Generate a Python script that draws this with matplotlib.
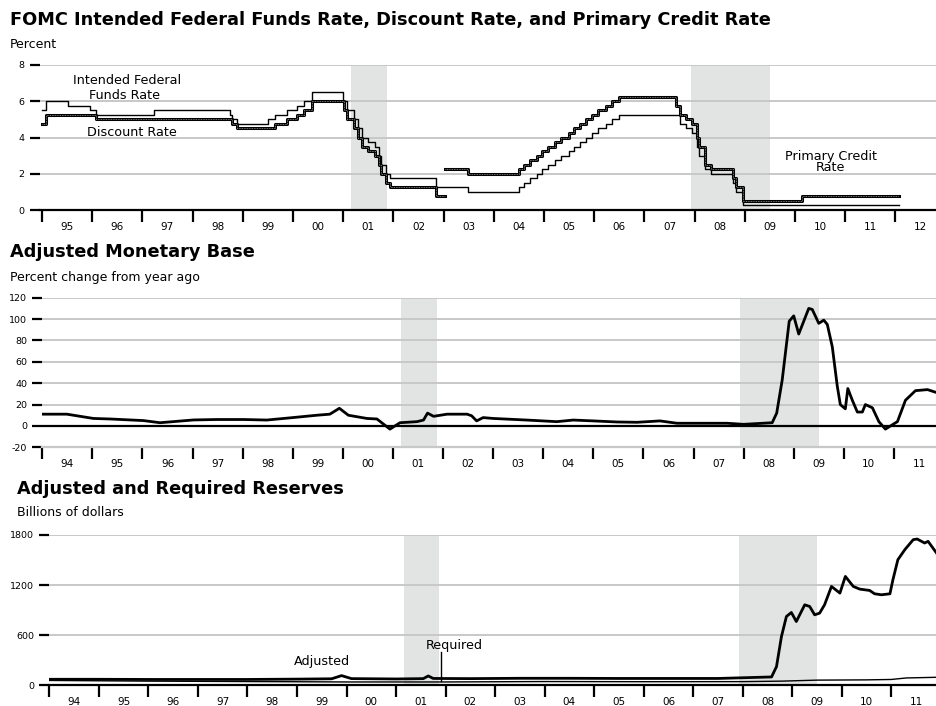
import numpy as np
import pandas as pd
import matplotlib
matplotlib.use("Agg")
import matplotlib.pyplot as plt

plt.rcParams["font.family"] = ["DejaVu Sans"]
plt.rcParams["axes.unicode_minus"] = False

# --- Panel 1: policy rates (step series, change dates) ---
ff_dates = ["1995-01-01", "1995-02-01", "1995-07-06", "1995-12-19", "1996-01-31",
            "1997-03-25", "1998-09-29", "1998-10-15", "1998-11-17", "1999-06-30",
            "1999-08-24", "1999-11-16", "2000-02-02", "2000-03-21", "2000-05-16",
            "2001-01-03", "2001-01-31", "2001-03-20", "2001-04-18", "2001-05-15",
            "2001-06-27", "2001-08-21", "2001-09-17", "2001-10-02", "2001-11-06",
            "2001-12-11", "2002-11-06", "2003-06-25", "2004-06-30", "2004-08-10",
            "2004-09-21", "2004-11-10", "2004-12-14", "2005-02-02", "2005-03-22",
            "2005-05-03", "2005-06-30", "2005-08-09", "2005-09-20", "2005-11-01",
            "2005-12-13", "2006-01-31", "2006-03-28", "2006-05-10", "2006-06-29",
            "2007-09-18", "2007-10-31", "2007-12-11", "2008-01-22", "2008-01-30",
            "2008-03-18", "2008-04-30", "2008-10-08", "2008-10-29", "2008-12-16",
            "2012-01-31"]
ff_rate = [5.5, 6.0, 5.75, 5.5, 5.25,
           5.5, 5.25, 5.0, 4.75, 5.0,
           5.25, 5.5, 5.75, 6.0, 6.5,
           6.0, 5.5, 5.0, 4.5, 4.0,
           3.75, 3.5, 3.0, 2.5, 2.0,
           1.75, 1.25, 1.0, 1.25, 1.5,
           1.75, 2.0, 2.25, 2.5, 2.75,
           3.0, 3.25, 3.5, 3.75, 4.0,
           4.25, 4.5, 4.75, 5.0, 5.25,
           4.75, 4.5, 4.25, 3.5, 3.0,
           2.25, 2.0, 1.5, 1.0, 0.25,
           0.25]

disc_dates = ["1995-01-01", "1995-02-01", "1996-01-31", "1998-10-15", "1998-11-17",
              "1999-08-24", "1999-11-16", "2000-02-02", "2000-03-21", "2000-05-16",
              "2001-01-04", "2001-01-31", "2001-03-20", "2001-04-18", "2001-05-15",
              "2001-06-27", "2001-08-21", "2001-09-17", "2001-10-02", "2001-11-06",
              "2001-12-11", "2002-11-06", "2003-01-09"]
disc_rate = [4.75, 5.25, 5.0, 4.75, 4.5,
             4.75, 5.0, 5.25, 5.5, 6.0,
             5.5, 5.0, 4.5, 4.0, 3.5,
             3.25, 3.0, 2.5, 2.0, 1.5,
             1.25, 0.75, 0.75]

pcr_dates = ["2003-01-09", "2003-06-25", "2004-06-30", "2004-08-10", "2004-09-21",
             "2004-11-10", "2004-12-14", "2005-02-02", "2005-03-22", "2005-05-03",
             "2005-06-30", "2005-08-09", "2005-09-20", "2005-11-01", "2005-12-13",
             "2006-01-31", "2006-03-28", "2006-05-10", "2006-06-29", "2007-08-17",
             "2007-09-18", "2007-10-31", "2007-12-11", "2008-01-22", "2008-01-30",
             "2008-03-16", "2008-03-18", "2008-04-30", "2008-10-08", "2008-10-29",
             "2008-12-16", "2010-02-19", "2012-01-31"]
pcr_rate = [2.25, 2.0, 2.25, 2.5, 2.75,
            3.0, 3.25, 3.5, 3.75, 4.0,
            4.25, 4.5, 4.75, 5.0, 5.25,
            5.5, 5.75, 6.0, 6.25, 5.75,
            5.25, 5.0, 4.75, 4.0, 3.5,
            3.25, 2.5, 2.25, 1.75, 1.25,
            0.5, 0.75, 0.75]

# --- Panel 2: adjusted monetary base, % change from year ago ---
mb_year = [1994.0, 1994.49, 1995.02, 1995.35, 1996.02, 1996.35, 1996.61, 1997.02,
           1997.48, 1998.03, 1998.48, 1999.0, 1999.48, 1999.74, 1999.93, 2000.11,
           2000.48, 2000.68, 2000.94, 2001.14, 2001.48, 2001.61, 2001.69, 2001.81,
           2002.08, 2002.48, 2002.57, 2002.67, 2002.80, 2003.0, 2003.67, 2004.27,
           2004.6, 2005.0, 2005.47, 2005.87, 2006.33, 2006.67, 2007.0, 2007.67,
           2008.0, 2008.57, 2008.66, 2008.77, 2008.91, 2009.0, 2009.1, 2009.2,
           2009.3, 2009.37, 2009.5, 2009.6, 2009.67, 2009.77, 2009.87, 2009.93,
           2010.03, 2010.08, 2010.17, 2010.27, 2010.37, 2010.43, 2010.57, 2010.70,
           2010.83, 2011.0, 2011.07, 2011.23, 2011.43, 2011.67, 2011.8, 2011.87]
mb_pct = [11, 11, 7, 6.5, 5, 3, 4, 5.6,
          6, 6, 5.5, 7.8, 10, 11, 16.5, 10,
          7, 6.5, -3, 3, 4, 5.5, 12, 9,
          11, 11, 9.5, 4.7, 7.8, 7, 5.5, 4,
          5.5, 4.7, 3.7, 3.4, 4.7, 2.5, 2.5, 2.5,
          1.5, 3, 12, 43, 98, 103, 86, 98,
          110, 109, 96, 99, 95, 74, 37, 20,
          16, 35, 24, 13, 13, 20, 17, 4,
          -3, 2, 4, 24, 33, 34, 32, 31]

# --- Panel 3: reserves, billions of dollars ---
adj_year = [1994.0, 1995.0, 1996.0, 1997.0, 1998.0, 1999.0, 1999.7, 1999.9, 2000.1,
            2001.0, 2001.55, 2001.65, 2001.75, 2002.5, 2003.5, 2004.5, 2005.5,
            2006.5, 2007.5, 2008.58, 2008.68, 2008.78, 2008.88, 2008.98, 2009.08,
            2009.25, 2009.35, 2009.45, 2009.55, 2009.65, 2009.79, 2009.96, 2010.07,
            2010.23, 2010.36, 2010.56, 2010.66, 2010.80, 2010.97, 2011.03, 2011.13,
            2011.27, 2011.44, 2011.52, 2011.67, 2011.74, 2011.92]
adj_res = [72, 72, 70, 70, 70, 74, 78, 116, 80,
           76, 80, 112, 82, 80, 84, 84, 82,
           82, 82, 100, 224, 584, 824, 872, 764,
           964, 944, 844, 864, 964, 1184, 1104, 1304,
           1184, 1152, 1136, 1096, 1084, 1096, 1264, 1504,
           1624, 1744, 1752, 1704, 1724, 1576]

req_year = [1994.0, 1996.0, 1998.0, 2000.0, 2002.0, 2004.0, 2006.0, 2008.0,
            2008.8, 2009.5, 2010.5, 2011.0, 2011.3, 2011.92]
req_res = [58, 50, 45, 40, 40, 45, 43, 44,
           50, 62, 65, 70, 88, 96]

recessions = [(2001.16, 2001.87), (2007.92, 2009.5)]

GRID = "#c8c8c8"
SHADE = "#e2e3e3"
TITLE_FS = 12.8
SUB_FS = 9
NOTE_FS = 9.2


def dec_year(dates):
    d = pd.to_datetime(dates)
    return np.asarray(d.year + (d.dayofyear - 1) / 365.25)


def style_axis(ax, first_year, last_year, xlim, ylim, yticks):
    ax.set_xlim(*xlim)
    ax.set_ylim(*ylim)
    for side in ("left", "right", "top"):
        ax.spines[side].set_visible(False)
    ax.spines["bottom"].set_linewidth(1.6)
    ax.set_yticks(yticks)
    ax.yaxis.grid(True, color=GRID, linewidth=1.4)
    ax.set_axisbelow(True)
    ax.tick_params(axis="y", length=7, width=1.6, pad=4, labelsize=6.8)
    years = np.arange(first_year, last_year + 1)
    ax.set_xticks(years)
    ax.set_xticklabels([])
    ax.set_xticks(years + 0.5, [f"{y % 100:02d}" for y in years], minor=True)
    ax.tick_params(axis="x", which="major", direction="out", length=8.5, width=1.6)
    ax.tick_params(axis="x", which="minor", length=0, pad=8.5, labelsize=7.5)
    for a, b in recessions:
        ax.axvspan(a, b, color=SHADE, zorder=0, linewidth=0)


fig = plt.figure(figsize=(9.37, 7.06), dpi=100)
W, H = 937, 706

# ---------------- top ----------------
ax1 = fig.add_axes([40 / W, 1 - 210 / H, (937 - 40) / W, 145 / H])
style_axis(ax1, 1995, 2012, (1994.96, 2012.83), (0, 8), [0, 2, 4, 6, 8])

for xs, ys, lw in [(dec_year(ff_dates), ff_rate, 1.0),
                   (dec_year(disc_dates), disc_rate, 2.2),
                   (dec_year(pcr_dates), pcr_rate, 2.2)]:
    ax1.step(xs, ys, where="post", color="black", linewidth=lw, zorder=3)
    if lw > 2:
        ax1.step(xs, ys, where="post", color="#9a9a9a", linewidth=0.6,
                 linestyle=(0, (1, 1)), zorder=4)

ax1.text(1996.69, 7.12, "Intended Federal", ha="center", va="center", fontsize=NOTE_FS)
ax1.text(1996.64, 6.3, "Funds Rate", ha="center", va="center", fontsize=NOTE_FS)
ax1.text(1996.79, 4.29, "Discount Rate", ha="center", va="center", fontsize=NOTE_FS)
ax1.text(2010.71, 2.96, "Primary Credit", ha="center", va="center", fontsize=NOTE_FS)
ax1.text(2010.71, 2.33, "Rate", ha="center", va="center", fontsize=NOTE_FS)

fig.text(10 / W, 1 - 20 / H, "FOMC Intended Federal Funds Rate, Discount Rate, and Primary Credit Rate",
         fontsize=TITLE_FS, fontweight="bold", va="center")
fig.text(10 / W, 1 - 45 / H, "Percent", fontsize=SUB_FS, va="center")

# ---------------- middle ----------------
ax2 = fig.add_axes([42.3 / W, 1 - 447.3 / H, (937 - 42.3) / W, 149.6 / H])
style_axis(ax2, 1994, 2011, (1994.0, 2011.86), (-20, 120), [-20, 0, 20, 40, 60, 80, 100, 120])
ax2.spines["bottom"].set_color(GRID)
ax2.axhline(0, color="black", linewidth=1.6, zorder=2)
ax2.plot(mb_year, mb_pct, color="black", linewidth=2.0, zorder=3)

fig.text(10 / W, 1 - 252 / H, "Adjusted Monetary Base", fontsize=TITLE_FS, fontweight="bold", va="center")
fig.text(10 / W, 1 - 277 / H, "Percent change from year ago", fontsize=SUB_FS, va="center")

# ---------------- bottom ----------------
ax3 = fig.add_axes([49.3 / W, 1 - 685.3 / H, (937 - 49.3) / W, 150.3 / H])
style_axis(ax3, 1994, 2011, (1994.0, 2011.92), (0, 1800), [0, 600, 1200, 1800])
ax3.plot(req_year, req_res, color="black", linewidth=1.0, zorder=3)
ax3.plot(adj_year, adj_res, color="black", linewidth=2.0, zorder=4)

ax3.text(1999.5, 283, "Adjusted", ha="center", va="center", fontsize=NOTE_FS)
ax3.text(2002.17, 472, "Required", ha="center", va="center", fontsize=NOTE_FS)
ax3.plot([2001.9, 2001.9], [55, 400], color="black", linewidth=1.0, zorder=5)

fig.text(17 / W, 1 - 489 / H, "Adjusted and Required Reserves", fontsize=TITLE_FS, fontweight="bold", va="center")
fig.text(17 / W, 1 - 513 / H, "Billions of dollars", fontsize=SUB_FS, va="center")

fig.savefig("out.png", dpi=100)
